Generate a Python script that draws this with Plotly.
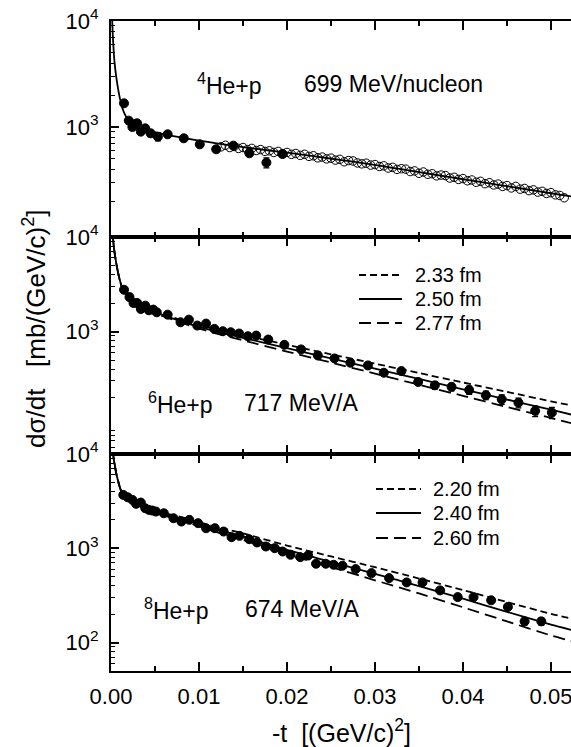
import plotly.graph_objects as go
from plotly.subplots import make_subplots

# ---------------- data ----------------
# 4He+p 699 MeV/nucleon
he4_t = [0.00148, 0.00202, 0.00243, 0.00273, 0.00298, 0.00339, 0.00389, 0.0045, 0.00533,
         0.00644, 0.00827, 0.01009, 0.01195, 0.0139, 0.01572, 0.01766, 0.01949]
he4_v = [1672, 1148, 1000, 1067, 1083, 904, 971, 872, 810, 853, 782, 686, 616, 667, 565, 461, 556]
he4_err = [0, 0, 0, 0, 0, 0, 0, 60, 70, 0, 0, 0, 0, 0, 0, 50, 0]

he4_open_t = [0.0125, 0.0130, 0.0135, 0.0140, 0.0145, 0.0150, 0.0155, 0.0160, 0.0165, 0.0170,
              0.0175, 0.0180, 0.0185, 0.0190, 0.0195, 0.0200, 0.0205, 0.0210, 0.0215, 0.0220,
              0.0225, 0.0230, 0.0235, 0.0240, 0.0245, 0.0250, 0.0255, 0.0260, 0.0265, 0.0270,
              0.0275, 0.0280, 0.0285, 0.0290, 0.0295, 0.0300, 0.0305, 0.0310, 0.0315, 0.0320,
              0.0325, 0.0330, 0.0335, 0.0340, 0.0345, 0.0350, 0.0355, 0.0360, 0.0365, 0.0370,
              0.0375, 0.0380, 0.0385, 0.0390, 0.0395, 0.0400, 0.0405, 0.0410, 0.0415, 0.0420,
              0.0425, 0.0430, 0.0435, 0.0440, 0.0445, 0.0450, 0.0455, 0.0460, 0.0465, 0.0470,
              0.0475, 0.0480, 0.0485, 0.0490, 0.0495, 0.0500, 0.0505, 0.0510, 0.0515]
he4_open_v = [650, 672, 640, 655, 628, 640, 612, 628, 600, 612,
              588, 596, 575, 588, 560, 575, 552, 562, 540, 552,
              528, 535, 512, 520, 500, 508, 487, 495, 470, 482,
              478, 458, 449, 455, 437, 442, 424, 430, 410, 416,
              398, 404, 400, 380, 385, 366, 376, 358, 362, 346,
              352, 348, 330, 335, 320, 326, 311, 316, 301, 307,
              292, 298, 284, 289, 275, 280, 266, 275, 259, 263,
              251, 255, 243, 247, 236, 240, 229, 226, 215]

he4_curve_t = [0.0001, 0.0002, 0.0003, 0.0004, 0.0006, 0.0008, 0.001, 0.0013, 0.0016, 0.002,
               0.0025, 0.003, 0.004, 0.005, 0.006, 0.008, 0.010, 0.012, 0.014, 0.016, 0.018,
               0.020, 0.023, 0.026, 0.029, 0.032, 0.035, 0.038, 0.041, 0.044, 0.047, 0.050, 0.0525]
he4_curve_v = [12000, 7500, 5300, 4100, 2950, 2300, 1880, 1500, 1300, 1150,
               1040, 960, 920, 895, 852, 795, 745, 700, 662, 630, 600,
               572, 530, 490, 452, 412, 375, 342, 312, 285, 260, 237, 220]

# 6He+p 717 MeV/A
he6_t = [0.00148, 0.0021, 0.00256, 0.00297, 0.00339, 0.00389, 0.0043, 0.0048, 0.0052, 0.00644,
         0.0079, 0.00885, 0.0098, 0.0108, 0.01175, 0.0127, 0.0136, 0.01456, 0.01555, 0.0165,
         0.01787, 0.0197, 0.0216, 0.0235, 0.0254, 0.0272, 0.0292, 0.0310, 0.0330, 0.0349,
         0.0368, 0.0387, 0.0407, 0.0426, 0.0444, 0.0463, 0.0482, 0.0501]
he6_v = [2767, 2317, 2004, 2004, 1733, 1879, 1679, 1706, 1598, 1510,
         1254, 1337, 1157, 1214, 1067, 1008, 984, 953, 893, 907,
         824, 724, 647, 559, 520, 468, 438, 367, 382, 293,
         270, 260, 241, 212, 192, 177, 145, 139]
he6_err = [0, 0, 0, 0, 0, 0, 0, 0, 0, 0,
           0, 0, 0, 0, 0, 0, 0, 0, 0, 0,
           0, 0, 0, 0, 0, 0, 0, 0, 0, 18,
           24, 24, 24, 22, 22, 21, 19, 19]

curve_t = [0.00015, 0.0003, 0.0004, 0.0006, 0.0008, 0.001, 0.0013, 0.0016, 0.002, 0.0025,
           0.003, 0.004, 0.005, 0.006, 0.008, 0.010, 0.012, 0.015, 0.020, 0.025,
           0.030, 0.035, 0.040, 0.045, 0.050, 0.0525]
he6_233 = [12000, 8200, 6900, 5250, 4200, 3500, 2850, 2567, 2339, 2172,
           2055, 1830, 1654, 1517, 1323, 1167, 1050, 915, 725, 575,
           458, 364, 289, 230, 183, 164]
he6_250 = [12000, 8200, 6900, 5250, 4200, 3500, 2850, 2550, 2320, 2150,
           2030, 1800, 1620, 1480, 1280, 1120, 1000, 858, 667, 520,
           405, 315, 245, 191, 149, 131]
he6_277 = [12000, 8200, 6900, 5250, 4200, 3500, 2850, 2534, 2302, 2129,
           2006, 1771, 1588, 1445, 1240, 1076, 953, 807, 615, 470,
           359, 274, 209, 159, 122, 106]
he6_labels = ["2.33 fm", "2.50 fm", "2.77 fm"]

# 8He+p 674 MeV/A
he8_t = [0.0014, 0.0019, 0.00244, 0.00285, 0.00339, 0.00389, 0.0043, 0.0047, 0.0051, 0.006,
         0.0071, 0.008, 0.0089, 0.0099, 0.0108, 0.0118, 0.0128, 0.0137, 0.0146, 0.0157,
         0.0166, 0.0176, 0.0186, 0.0195, 0.0204, 0.0215, 0.0224, 0.0233, 0.0244, 0.0253,
         0.0263, 0.0278, 0.0296, 0.0316, 0.0336, 0.0354, 0.0374, 0.0394, 0.0412, 0.0432,
         0.0451, 0.0470, 0.0489]
he8_v = [3681, 3475, 3260, 2960, 3055, 2660, 2555, 2514, 2454, 2355,
         2084, 1923, 2004, 1847, 1634, 1634, 1506, 1312, 1355, 1250,
         1153, 1046, 1004, 925, 854, 806, 839, 686, 686, 669,
         653, 602, 546, 483, 435, 435, 358, 304, 304, 281,
         239, 168, 168]
he8_err = [0] * 38 + [14, 14, 14, 15, 15]

he8_220 = [12000, 9000, 7900, 6200, 5200, 4450, 3750, 3500, 3280, 3090,
           2945, 2707, 2516, 2374, 2139, 1895, 1684, 1440, 1070, 820,
           630, 478, 361, 269, 202, 178]
he8_240 = [12000, 9000, 7900, 6200, 5200, 4450, 3750, 3500, 3250, 3050,
           2900, 2650, 2450, 2300, 2050, 1800, 1580, 1330, 960, 720,
           535, 398, 292, 212, 155, 135]
he8_260 = [12000, 9000, 7900, 6200, 5200, 4450, 3750, 3500, 3220, 3010,
           2855, 2595, 2387, 2229, 1967, 1709, 1484, 1230, 865, 632,
           458, 332, 237, 168, 119, 103]
he8_labels = ["2.20 fm", "2.40 fm", "2.60 fm"]

x_ticks = [0.00, 0.01, 0.02, 0.03, 0.04, 0.05]
x_ticktext = ["0.00", "0.01", "0.02", "0.03", "0.04", "0.05"]

# ---------------- figure ----------------
FONT = "Liberation Sans, Arial, Helvetica, sans-serif"
BLACK = "#000000"
fig = make_subplots(rows=3, cols=1, vertical_spacing=0)

SHORT_DASH = "7px,4px"
LONG_DASH = "12px,6px"
DASHES = [SHORT_DASH, "solid", LONG_DASH]
LINE_W = 1.8

def curve(t, v, dash, row, name=None):
    fig.add_trace(go.Scatter(x=t, y=v, mode="lines", line=dict(color=BLACK, width=LINE_W, dash=dash,
                                                                shape="spline", smoothing=0.6),
                             name=name, showlegend=False, hoverinfo="skip"),
                  row=row, col=1)

def points(t, v, err, row, open_=False):
    fig.add_trace(go.Scatter(x=t, y=v, mode="markers",
                             marker=dict(symbol="circle-open" if open_ else "circle", size=8.5 if open_ else 9,
                                         color=BLACK, line=dict(color=BLACK, width=1)),
                             error_y=dict(type="data", array=err, visible=err is not None,
                                          color=BLACK, thickness=1.2, width=3),
                             showlegend=False, hoverinfo="skip"),
                  row=row, col=1)

# top panel
curve(he4_curve_t, he4_curve_v, "solid", 1)
points(he4_open_t, he4_open_v, None, 1, open_=True)
points(he4_t, he4_v, he4_err, 1)

# middle panel
for vals, dash, lab in zip([he6_233, he6_250, he6_277], DASHES, he6_labels):
    curve(curve_t, vals, dash, 2, lab)
points(he6_t, he6_v, he6_err, 2)

# bottom panel
for vals, dash, lab in zip([he8_220, he8_240, he8_260], DASHES, he8_labels):
    curve(curve_t, vals, dash, 3, lab)
points(he8_t, he8_v, he8_err, 3)

# ---------------- layout ----------------
W, H = 571, 747
ML, MR, MT, MB = 111, 0, 21, 76
plot_w = W - ML - MR
plot_h = H - MT - MB
d_bot = 217 / plot_h
d_mid = 434 / plot_h

def minor_vals(lo, hi):
    vals = []
    for e in range(lo, hi):
        for m in range(2, 10):
            vals.append(m * 10 ** e)
    return vals

TICK_SIZE = 22
x_common = dict(range=[0, plot_w / 8800.0], showline=True, linewidth=2, linecolor=BLACK,
                mirror="ticks", ticks="inside", ticklen=9, tickwidth=1.5, tickcolor=BLACK,
                tickmode="array", tickvals=x_ticks, ticktext=x_ticktext,
                ticklabeloverflow="allow", ticklabelstandoff=5,
                minor=dict(tickmode="array", tickvals=[0.005, 0.015, 0.025, 0.035, 0.045],
                           ticks="inside", ticklen=5, tickwidth=1.5, tickcolor=BLACK),
                showgrid=False, zeroline=False,
                tickfont=dict(family=FONT, size=TICK_SIZE, color=BLACK))

y_common = dict(type="log", showline=True, linewidth=2, linecolor=BLACK, ticks="inside",
                ticklen=8, tickwidth=1.5, tickcolor=BLACK, showgrid=False, zeroline=False,
                tickfont=dict(family=FONT, size=TICK_SIZE, color=BLACK), ticklabelstandoff=6,
                minor=dict(tickmode="array", tickvals=minor_vals(1, 4), ticks="inside",
                           ticklen=4, tickwidth=1.2, tickcolor=BLACK))

fig.update_layout(
    width=W, height=H, margin=dict(l=ML, r=MR, t=MT, b=MB),
    paper_bgcolor="white", plot_bgcolor="white",
    font=dict(family=FONT, color=BLACK),
    showlegend=False,
    xaxis=dict(x_common, domain=[0, 1], showticklabels=False, anchor="y"),
    xaxis2=dict(x_common, domain=[0, 1], showticklabels=False, anchor="y2"),
    xaxis3=dict(x_common, domain=[0, 1], showticklabels=True, anchor="y3"),
    yaxis=dict(y_common, domain=[d_mid, 1], range=[1.962, 4],
               tickmode="array", tickvals=[1000, 10000],
               ticktext=["10<sup>3</sup>", "10<sup>4</sup>"]),
    yaxis2=dict(y_common, domain=[d_bot, d_mid], range=[1.705, 4],
                tickmode="array", tickvals=[1000, 10000],
                ticktext=["10<sup>3</sup>", "10<sup>4</sup>"]),
    yaxis3=dict(y_common, domain=[0, d_bot], range=[1.699, 4],
                tickmode="array", tickvals=[100, 1000, 10000],
                ticktext=["10<sup>2</sup>", "10<sup>3</sup>", "10<sup>4</sup>"]),
)

def px_x(px):
    return (px - ML) / plot_w

def px_y(py):
    return (H - MB - py) / plot_h

ann_font = dict(family=FONT, size=23, color=BLACK)
labels = [
    ("<sup>4</sup>He+p", 195, 84), ("699 MeV/nucleon", 302, 84),
    ("<sup>6</sup>He+p", 146, 403), ("717 MeV/A", 242, 403),
    ("<sup>8</sup>He+p", 142, 609), ("674 MeV/A", 243, 609),
]
for txt, x, y in labels:
    fig.add_annotation(text=txt, x=px_x(x), y=px_y(y), xref="paper", yref="paper",
                       xanchor="left", yanchor="middle", showarrow=False, font=ann_font)

# legend keys (line sample + label) for middle and bottom panels
leg_font = dict(family=FONT, size=20, color=BLACK)
def legend_block(names, x_line0, x_line1, x_text, rows):
    for name, dash, yrow in zip(names, DASHES, rows):
        fig.add_shape(type="line", xref="paper", yref="paper",
                      x0=px_x(x_line0), x1=px_x(x_line1), y0=px_y(yrow), y1=px_y(yrow),
                      line=dict(color=BLACK, width=LINE_W, dash=dash))
        fig.add_annotation(text=name, x=px_x(x_text), y=px_y(yrow), xref="paper", yref="paper",
                           xanchor="left", yanchor="middle", showarrow=False, font=leg_font)

legend_block(he6_labels, 359, 402, 413, [275, 299, 323])
legend_block(he8_labels, 376, 421, 431, [489, 513, 538])

fig.add_annotation(text="d\u03c3/dt\u00a0\u00a0\u00a0[mb/(GeV/c)<sup>2</sup>]", x=px_x(34), y=px_y(329),
                   xref="paper", yref="paper", textangle=-90, showarrow=False,
                   xanchor="center", yanchor="middle", font=dict(family=FONT, size=26, color=BLACK))
fig.add_annotation(text="-t\u00a0\u00a0[(GeV/c)<sup>2</sup>]", x=px_x(341), y=px_y(731),
                   xref="paper", yref="paper", showarrow=False,
                   xanchor="center", yanchor="middle", font=dict(family=FONT, size=25, color=BLACK))

fig.write_html("out.html")
